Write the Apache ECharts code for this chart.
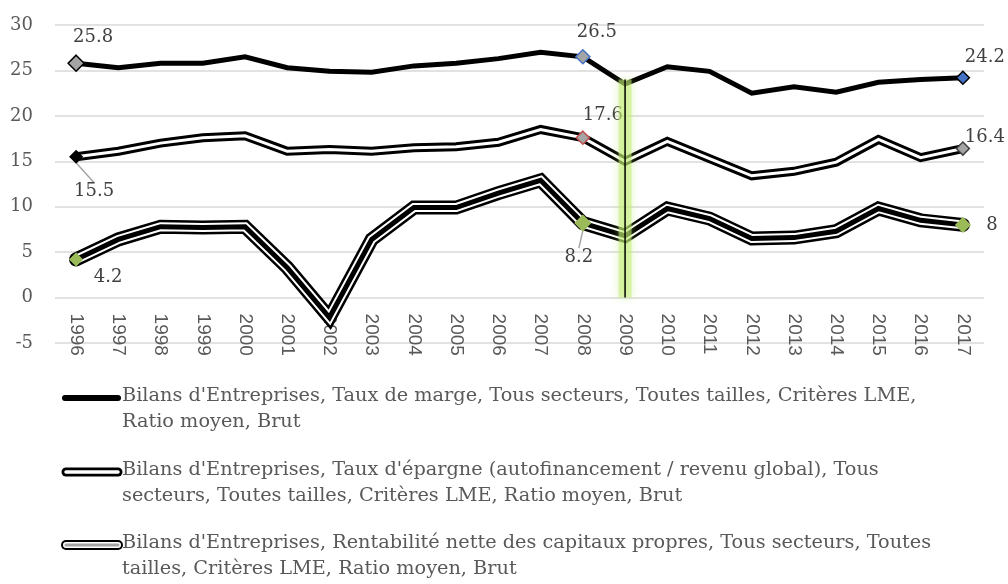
<!DOCTYPE html>
<html>
<head>
<meta charset="utf-8">
<script src="https://cdn.jsdelivr.net/npm/echarts@6/dist/echarts.min.js"></script>
<style>
  html, body { margin: 0; padding: 0; background: #fff; }
  #chart { width: 1008px; height: 584px; }
</style>
</head>
<body>
<div id="chart"></div>
<script>
var years = ['1996', '1997', '1998', '1999', '2000', '2001', '2002', '2003', '2004', '2005', '2006',
  '2007', '2008', '2009', '2010', '2011', '2012', '2013', '2014', '2015', '2016', '2017'];

var tauxMarge = [25.8, 25.3, 25.8, 25.8, 26.5, 25.3, 24.9, 24.8, 25.5, 25.8, 26.3,
  27.0, 26.5, 23.5, 25.4, 24.9, 22.5, 23.2, 22.6, 23.7, 24.0, 24.2];

var tauxEpargne = [15.5, 16.1, 17.0, 17.6, 17.8, 16.1, 16.3, 16.1, 16.5, 16.6, 17.1,
  18.5, 17.6, 15.0, 17.2, 15.3, 13.4, 13.9, 14.9, 17.4, 15.4, 16.4];

var rentabilite = [4.2, 6.4, 7.8, 7.7, 7.8, 3.3, -2.2, 6.4, 9.9, 9.9, 11.5,
  12.9, 8.2, 6.8, 9.8, 8.7, 6.5, 6.6, 7.3, 9.8, 8.5, 8.0];

// vertical marker at 2009
var markerYear = '2009';
var markerRange = [0, 24];

var seriesNames = [
  "Bilans d'Entreprises, Taux de marge, Tous secteurs, Toutes tailles, Critères LME,\nRatio moyen, Brut",
  "Bilans d'Entreprises, Taux d'épargne (autofinancement / revenu global), Tous\nsecteurs, Toutes tailles, Critères LME, Ratio moyen, Brut",
  "Bilans d'Entreprises, Rentabilité nette des capitaux propres, Tous secteurs, Toutes\ntailles, Critères LME, Ratio moyen, Brut"
];

var FONT = 'DejaVu Serif';
var GREY = '#a5a5a5', BLUE = '#4472c4', RED = '#c0504d', GREEN = '#9bbb59';

// highlighted points: [index, fill, border, size, dx, dy, leader]
var marks1 = [[0, GREY, '#000', 16, 17, -26, false], [12, GREY, BLUE, 14, 14, -24, false], [21, BLUE, '#000', 13, 22, -20, false]];
var marks2 = [[0, '#000', '#000', 12, 18, 35, true], [12, GREY, RED, 13, 20, -22, false], [21, GREY, '#404040', 13, 22, -11, false]];
var marks3 = [[0, GREEN, GREEN, 12, 32, 18, false], [12, GREEN, GREEN, 15, -4, 34, true], [21, GREEN, GREEN, 14, 29, 0, false]];

function buildData(values, marks) {
  return values.map(function (v, i) {
    var m = marks.filter(function (mk) { return mk[0] === i; })[0];
    if (!m) return { value: v, symbol: 'none' };
    return {
      value: v,
      symbol: 'diamond',
      symbolSize: m[3],
      itemStyle: { color: m[1], borderColor: m[2], borderWidth: 1.5 },
      label: { show: true },
      labelLine: { show: m[6] }
    };
  });
}

function layoutFor(marks) {
  return function (params) {
    var m = marks.filter(function (mk) { return mk[0] === params.dataIndex; })[0];
    if (!m) return {};
    return { dx: m[4], dy: m[5] };
  };
}

function plainLine(name, values, color, width, z) {
  return {
    name: name,
    type: 'line',
    data: values,
    showSymbol: false,
    silent: true,
    z: z,
    lineStyle: { color: color, width: width, cap: 'round', join: 'miter' }
  };
}

function markedLine(name, values, color, width, marks, z) {
  return {
    name: name,
    type: 'line',
    data: buildData(values, marks),
    showSymbol: true,
    showAllSymbol: true,
    silent: true,
    z: z,
    lineStyle: { color: color, width: width, cap: 'round', join: 'miter' },
    label: {
      show: false,
      position: 'inside',
      formatter: function (p) { return p.value; },
      fontFamily: FONT,
      fontSize: 18,
      color: '#404040'
    },
    labelLine: { show: false, lineStyle: { color: '#a6a6a6', width: 1.5 } },
    labelLayout: layoutFor(marks)
  };
}

var chart = echarts.init(document.getElementById('chart'));

var legendFont = '19.3px "' + FONT + '"';
var gridTop = 25, gridBottom = 241;
var yMin = -5, yMax = 30;
// the category axis sits on the zero line, as in the original
var zeroOffset = -(584 - gridTop - gridBottom) * (0 - yMin) / (yMax - yMin);

var option = {
  animation: false,
  grid: { left: 55, right: 24, top: gridTop, bottom: gridBottom },
  xAxis: {
    type: 'category',
    data: years,
    boundaryGap: true,
    position: 'bottom',
    offset: zeroOffset,
    axisLine: { show: false, onZero: false },
    axisTick: { show: false },
    axisLabel: {
      interval: 0,
      rotate: -90,
      margin: 16,
      fontFamily: 'Liberation Sans',
      fontSize: 19,
      color: '#595959'
    }
  },
  yAxis: {
    type: 'value',
    min: yMin,
    max: yMax,
    interval: 5,
    axisLine: { show: false },
    axisTick: { show: false },
    splitLine: { lineStyle: { color: '#d9d9d9', width: 1.5 } },
    axisLabel: { margin: 22, fontFamily: FONT, fontSize: 18, color: '#595959' }
  },
  series: [
    markedLine('s1', tauxMarge, '#000', 5, marks1, 2),
    plainLine('s2', tauxEpargne, '#000', 9, 3),
    markedLine('s2in', tauxEpargne, '#fff', 3, marks2, 4),
    plainLine('s3', rentabilite, '#000', 14, 5),
    plainLine('s3mid', rentabilite, '#fff', 9, 6),
    markedLine('s3in', rentabilite, '#000', 5, marks3, 7),
    {
      name: 'glow',
      type: 'line',
      data: markerRange.map(function (v) { return [markerYear, v]; }),
      showSymbol: false,
      silent: true,
      z: 8,
      lineStyle: {
        color: 'rgba(196, 236, 120, 0.55)',
        width: 13,
        shadowBlur: 8,
        shadowColor: 'rgba(180, 230, 90, 0.7)'
      }
    },
    {
      name: 'marker',
      type: 'line',
      data: markerRange.map(function (v) { return [markerYear, v]; }),
      showSymbol: false,
      silent: true,
      z: 9,
      lineStyle: { color: '#000', width: 1.5 }
    }
  ],
  graphic: [
    // legend item 1
    { type: 'line', shape: { x1: 65, y1: 398, x2: 118, y2: 398 }, style: { stroke: '#000', lineWidth: 6, lineCap: 'round' } },
    { type: 'text', left: 122, top: 383, style: { text: seriesNames[0], font: legendFont, fill: '#595959', lineHeight: 26 } },
    // legend item 2
    { type: 'line', shape: { x1: 66, y1: 472, x2: 118, y2: 472 }, style: { stroke: '#000', lineWidth: 9, lineCap: 'round' } },
    { type: 'line', shape: { x1: 66, y1: 472, x2: 118, y2: 472 }, style: { stroke: '#fff', lineWidth: 3.5, lineCap: 'round' } },
    { type: 'text', left: 122, top: 457, style: { text: seriesNames[1], font: legendFont, fill: '#595959', lineHeight: 26 } },
    // legend item 3
    { type: 'line', shape: { x1: 66, y1: 545, x2: 118, y2: 545 }, style: { stroke: '#000', lineWidth: 10, lineCap: 'round' } },
    { type: 'line', shape: { x1: 66, y1: 545, x2: 118, y2: 545 }, style: { stroke: '#fff', lineWidth: 6, lineCap: 'round' } },
    { type: 'line', shape: { x1: 66, y1: 545, x2: 118, y2: 545 }, style: { stroke: GREY, lineWidth: 3, lineCap: 'round' } },
    { type: 'text', left: 122, top: 530, style: { text: seriesNames[2], font: legendFont, fill: '#595959', lineHeight: 26 } }
  ]
};

chart.setOption(option);
</script>
</body>
</html>
